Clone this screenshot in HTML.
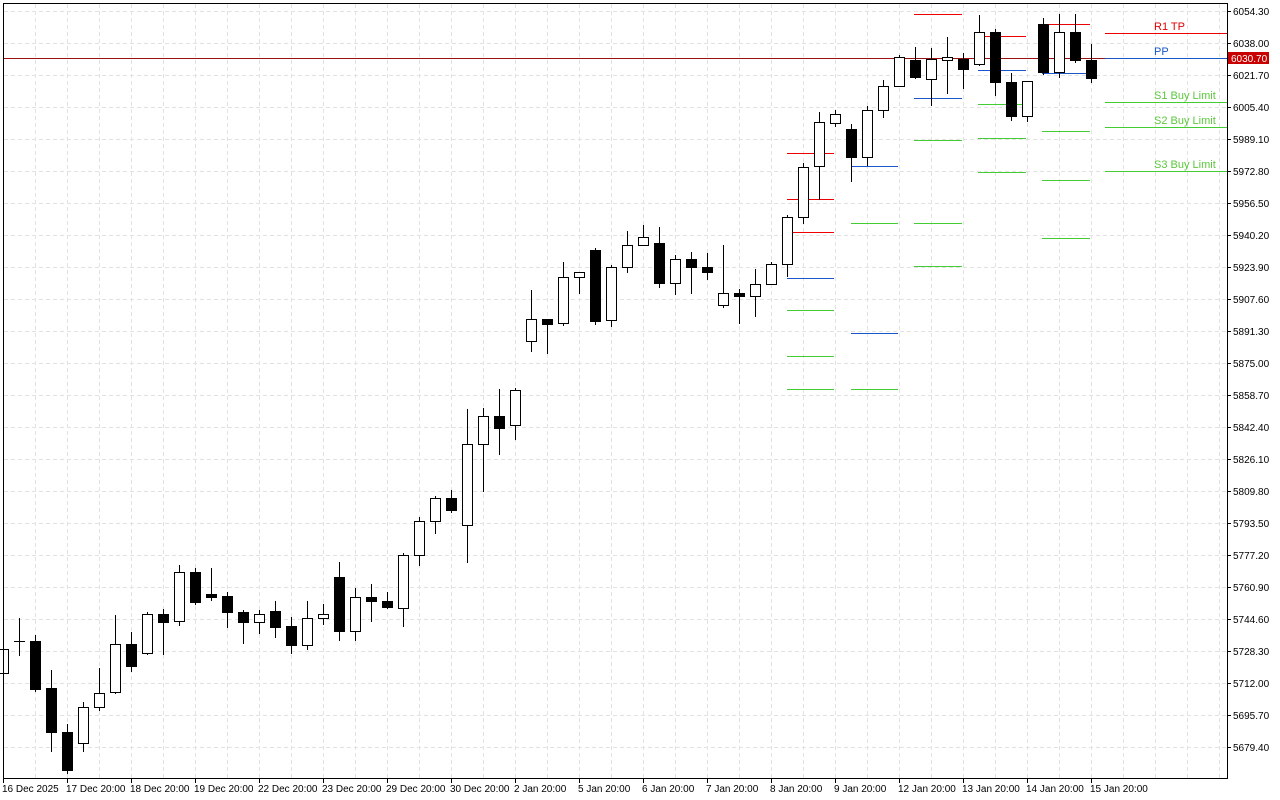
<!DOCTYPE html>
<html><head><meta charset="utf-8"><style>
html,body{margin:0;padding:0;background:#fff;width:1280px;height:800px;overflow:hidden}
svg{display:block;font-family:"Liberation Sans",sans-serif}
</style></head><body>
<svg id="s" width="1280" height="800" xmlns="http://www.w3.org/2000/svg">
<g id="grid" stroke="#e2e2e2" stroke-dasharray="4,3" stroke-width="1"></g>
<line x1="3" y1="58.5" x2="1227" y2="58.5" stroke="#9b1010" stroke-width="1"/>
<g id="lv"></g>
<g id="cd"></g>
<rect x="3.5" y="3.5" width="1224" height="775" fill="none" stroke="#000"/>
<g font-size="10" fill="#000">
<text x="1233" y="15">6054.30</text><text x="1233" y="47">6038.00</text><text x="1233" y="79">6021.70</text><text x="1233" y="111">6005.40</text><text x="1233" y="143">5989.10</text><text x="1233" y="175">5972.80</text><text x="1233" y="207">5956.50</text><text x="1233" y="239">5940.20</text><text x="1233" y="271">5923.90</text><text x="1233" y="303">5907.60</text><text x="1233" y="335">5891.30</text><text x="1233" y="367">5875.00</text><text x="1233" y="399">5858.70</text><text x="1233" y="431">5842.40</text><text x="1233" y="463">5826.10</text><text x="1233" y="495">5809.80</text><text x="1233" y="527">5793.50</text><text x="1233" y="559">5777.20</text><text x="1233" y="591">5760.90</text><text x="1233" y="623">5744.60</text><text x="1233" y="655">5728.30</text><text x="1233" y="687">5712.00</text><text x="1233" y="719">5695.70</text><text x="1233" y="751">5679.40</text>
</g>
<rect x="1228" y="52" width="41" height="12" fill="#c80000"/>
<text x="1231" y="62" font-size="10" fill="#fff">6030.70</text>
<g font-size="10" fill="#000">
<text x="2" y="792">16 Dec 2025</text><text x="66" y="792">17 Dec 20:00</text><text x="130" y="792">18 Dec 20:00</text><text x="194" y="792">19 Dec 20:00</text><text x="258" y="792">22 Dec 20:00</text><text x="322" y="792">23 Dec 20:00</text><text x="386" y="792">29 Dec 20:00</text><text x="450" y="792">30 Dec 20:00</text><text x="514" y="792">2 Jan 20:00</text><text x="578" y="792">5 Jan 20:00</text><text x="642" y="792">6 Jan 20:00</text><text x="706" y="792">7 Jan 20:00</text><text x="770" y="792">8 Jan 20:00</text><text x="834" y="792">9 Jan 20:00</text><text x="898" y="792">12 Jan 20:00</text><text x="962" y="792">13 Jan 20:00</text><text x="1026" y="792">14 Jan 20:00</text><text x="1090" y="792">15 Jan 20:00</text>
</g>
<g font-size="11">
<text x="1154" y="30" fill="#e00000">R1 TP</text>
<text x="1154" y="55" fill="#1a56c8">PP</text>
<text x="1154" y="99" fill="#5cc83c">S1 Buy Limit</text>
<text x="1154" y="124" fill="#5cc83c">S2 Buy Limit</text>
<text x="1154" y="168" fill="#5cc83c">S3 Buy Limit</text>
</g>
<g id="tk" stroke="#000"></g>
</svg>
<script>
var NS="http://www.w3.org/2000/svg";
function el(p,t,a){var e=document.createElementNS(NS,t);for(var k in a)e.setAttribute(k,a[k]);document.getElementById(p).appendChild(e);}
for(var y=11;y<=747;y+=32)el("grid","line",{x1:4,x2:1227,y1:y+.5,y2:y+.5});
for(var x=35;x<1227;x+=32)el("grid","line",{x1:x+.5,x2:x+.5,y1:4,y2:778});
for(var x=3;x<=1091;x+=64)el("tk","line",{x1:x+.5,x2:x+.5,y1:778,y2:783});
for(var y=11;y<=747;y+=32)el("tk","line",{x1:1227,x2:1231,y1:y+.5,y2:y+.5});
var R="#ee0000",B="#1a56c8",G="#44cc33";
var L=[[787,834,232,R],[787,834,199,R],[787,834,153,R],[914,962,14,R],[978,1026,36,R],[1042,1090,24,R],[1105,1227,33,R],
[851,898,166,B],[914,962,98,B],[978,1026,70,B],[1042,1090,73,B],[787,834,278,B],[851,898,333,B],[1105,1227,58,B],
[851,898,223,G],[914,962,140,G],[914,962,223,G],[914,962,266,G],[978,1026,104,G],[978,1026,138,G],[978,1026,172,G],
[1042,1090,131,G],[1042,1090,180,G],[1042,1090,238,G],[787,834,310,G],[787,834,356,G],[787,834,389,G],[851,898,389,G],
[1105,1227,102,G],[1105,1227,127,G],[1105,1227,171,G]];
L.forEach(function(l){el("lv","rect",{x:l[0],width:l[1]-l[0],y:l[2],height:1,fill:l[3]});});
var C=[[649,673,640,680,1],[641,641,618,656,1],[641,689,635,692,0],[688,732,670,752,0],[732,770,724,774,0],[707,743,702,752,1],[693,707,668,711,1],[644,692,615,694,1],[644,666,632,672,0],[614,653,612,655,1],[614,622,609,655,0],[572,621,565,626,1],[572,602,568,605,0],[594,597,568,601,0],[596,612,592,628,0],[612,622,610,644,0],[614,622,610,634,1],[611,627,601,638,0],[626,645,617,654,0],[618,645,601,650,1],[614,618,604,625,1],[577,631,562,641,0],[597,631,588,641,1],[597,601,584,622,0],[601,607,592,609,0],[555,608,553,627,1],[521,555,517,566,1],[498,521,496,534,1],[498,510,490,513,0],[444,525,409,563,1],[416,444,408,492,1],[416,428,389,455,0],[390,425,388,440,1],[319,341,290,352,1],[319,324,319,354,0],[277,323,262,326,1],[272,277,272,294,1],[250,321,248,325,0],[267,320,265,327,1],[245,267,231,273,1],[237,245,225,246,1],[243,283,227,288,0],[259,283,255,295,1],[259,267,252,294,0],[267,272,253,280,0],[293,305,245,308,1],[293,296,289,324,0],[284,296,269,317,1],[264,284,262,284,1],[217,264,215,277,1],[167,217,163,224,1],[122,166,112,200,1],[114,123,110,127,1],[129,157,124,182,0],[110,157,106,166,1],[86,110,80,118,1],[57,86,55,86,1],[60,77,47,79,0],[59,79,48,106,1],[57,60,37,94,1],[59,69,53,89,0],[32,64,15,66,1],[32,82,29,96,0],[82,116,73,121,0],[81,116,81,122,1],[24,72,18,75,0],[32,72,14,78,1],[32,60,14,63,0],[60,78,44,83,0]];
C.forEach(function(c,i){var x=3+16*i;
el("cd","line",{x1:x+.5,x2:x+.5,y1:c[2],y2:c[3],stroke:"#000"});
var h=c[1]-c[0];
if(h<=1){el("cd","line",{x1:x-5,x2:x+6,y1:c[0]+.5,y2:c[0]+.5,stroke:"#000"});}
else el("cd","rect",{x:x-4.5,y:c[0]+.5,width:10,height:h,fill:c[4]?"#fff":"#000",stroke:"#000"});});
</script>
</body></html>
